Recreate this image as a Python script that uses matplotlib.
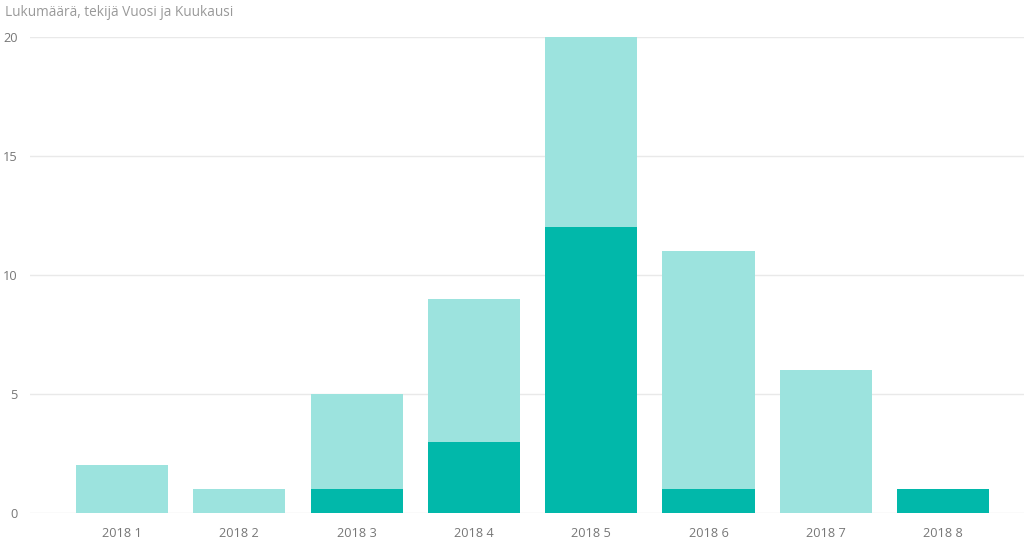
import matplotlib
matplotlib.use("Agg")
import matplotlib.pyplot as plt
import numpy as np

months = ["2018 1", "2018 2", "2018 3", "2018 4", "2018 5", "2018 6", "2018 7", "2018 8"]
dark_vals = [0, 0, 1, 3, 12, 1, 0, 1]
light_vals = [2, 1, 4, 6, 8, 10, 6, 0]

dark_color = "#01b8aa"
light_color = "#9ce3de"
text_color = "#777777"

plt.rcParams['font.family'] = ['Open Sans', 'DejaVu Sans']

fig = plt.figure(figsize=(10.24, 5.44), dpi=100)
ax = fig.add_axes([30 / 1024, 31 / 544, 994 / 1024, 476 / 544])

x = np.arange(len(months))
ax.bar(x, dark_vals, width=0.785, color=dark_color, zorder=3)
ax.bar(x, light_vals, width=0.785, bottom=dark_vals, color=light_color, zorder=3)

ax.set_xlim(-0.784, 7.69)
ax.set_ylim(0, 20)
ax.set_yticks([0, 5, 10, 15, 20])
ax.set_xticks(x)
ax.set_xticklabels(months)
ax.grid(axis="y", color="#e9e9e9", linewidth=1, zorder=0)
for s in ax.spines.values():
    s.set_visible(False)
ax.tick_params(axis="both", length=0, colors=text_color, labelsize=9.2)
ax.tick_params(axis="y", pad=9)
ax.tick_params(axis="x", pad=10)

fig.text(5 / 1024, 1 - 12 / 544, "Lukumäärä, tekijä Vuosi ja Kuukausi",
         color="#999999", fontsize=9.8, va="center", ha="left")

fig.savefig("out.png", dpi=100)
